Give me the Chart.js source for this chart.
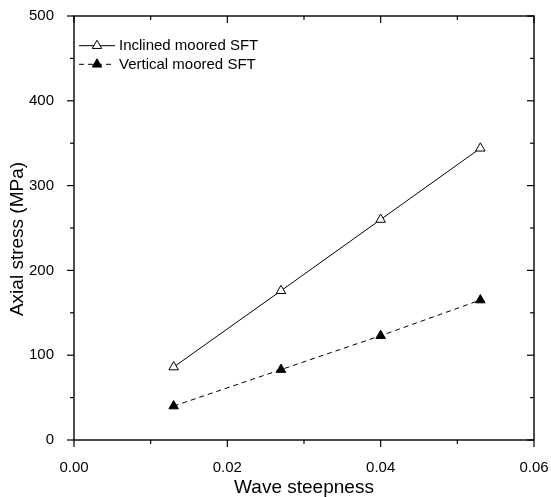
<!DOCTYPE html>
<html>
<head>
<meta charset="utf-8">
<script src="https://cdn.jsdelivr.net/npm/chart.js@4/dist/chart.umd.min.js"></script>
<style>
html,body{margin:0;padding:0;background:#fff;}
#wrap{width:551px;height:497px;position:relative;}
</style>
</head>
<body>
<div id="wrap"><canvas id="c" width="551" height="497"></canvas></div>
<script>
const waveSteepness = [0.013, 0.027, 0.040, 0.053];
const inclinedStress = [86, 176, 260, 344];
const verticalStress = [40, 83, 123, 165];
const seriesLabels = ['Inclined moored SFT', 'Vertical moored SFT'];
const xTitle = 'Wave steepness';
const yTitle = 'Axial stress (MPa)';
const xMajor = [0, 0.02, 0.04, 0.06];
const xMinor = [0.01, 0.03, 0.05];
const yMajor = [0, 100, 200, 300, 400, 500];
const yMinor = [50, 150, 250, 350, 450];

const FONT = "'Liberation Sans', Arial, sans-serif";

const framePlugin = {
  id: 'frame',
  afterDatasetsDraw(chart) {
    const ctx = chart.ctx, a = chart.chartArea;
    const xs = chart.scales.x, ys = chart.scales.y;
    ctx.save();
    ctx.strokeStyle = '#000';
    ctx.lineWidth = 1.4;
    ctx.strokeRect(a.left, a.top, a.right - a.left, a.bottom - a.top);
    ctx.lineWidth = 1.2;
    const tick = (x1, y1, x2, y2) => { ctx.beginPath(); ctx.moveTo(x1, y1); ctx.lineTo(x2, y2); ctx.stroke(); };
    xMajor.forEach(v => { const p = xs.getPixelForValue(v); tick(p, a.bottom, p, a.bottom + 7); tick(p, a.top, p, a.top + 7); });
    xMinor.forEach(v => { const p = xs.getPixelForValue(v); tick(p, a.bottom, p, a.bottom + 4); tick(p, a.top, p, a.top + 4); });
    yMajor.forEach(v => { const p = ys.getPixelForValue(v); tick(a.left - 7, p, a.left, p); tick(a.right - 7, p, a.right, p); });
    yMinor.forEach(v => { const p = ys.getPixelForValue(v); tick(a.left - 4, p, a.left, p); tick(a.right - 4, p, a.right, p); });

    // y-axis title (slightly below centre, as in the reference)
    ctx.save();
    ctx.translate(17.5, 239);
    ctx.rotate(-Math.PI / 2);
    ctx.fillStyle = '#000';
    ctx.font = '19px ' + FONT;
    ctx.textAlign = 'center';
    ctx.textBaseline = 'middle';
    ctx.fillText(yTitle, 0, 0);
    ctx.restore();

    // legend
    const rows = [
      {y: 45.7, ds: chart.data.datasets[0]},
      {y: 64.3, ds: chart.data.datasets[1]}
    ];
    rows.forEach(r => {
      ctx.lineWidth = 1;
      ctx.setLineDash(r.ds.borderDash || []);
      ctx.strokeStyle = '#000';
      tick(79, r.y, 115, r.y);
      ctx.setLineDash([]);
      const rad = r.ds.pointRadius, cx = 97, cy = r.y;
      ctx.beginPath();
      for (let i = 0; i < 3; i++) {
        const ang = i * 2 * Math.PI / 3;
        const px = cx + Math.sin(ang) * rad, py = cy - Math.cos(ang) * rad;
        if (i === 0) ctx.moveTo(px, py); else ctx.lineTo(px, py);
      }
      ctx.closePath();
      ctx.fillStyle = r.ds.pointBackgroundColor;
      ctx.fill();
      ctx.stroke();
      ctx.fillStyle = '#000';
      ctx.font = '15px ' + FONT;
      ctx.textBaseline = 'middle';
      ctx.textAlign = 'left';
      ctx.fillText(r.ds.label, 119, r.y + 0.5);
    });
    ctx.restore();
  }
};

new Chart(document.getElementById('c'), {
  type: 'line',
  data: {
    datasets: [
      {
        label: seriesLabels[0],
        data: waveSteepness.map((x, i) => ({x: x, y: inclinedStress[i]})),
        borderColor: '#000', borderWidth: 1,
        pointStyle: 'triangle', pointRadius: 5.5,
        pointBackgroundColor: '#fff', pointBorderColor: '#000', pointBorderWidth: 1,
        tension: 0, fill: false
      },
      {
        label: seriesLabels[1],
        data: waveSteepness.map((x, i) => ({x: x, y: verticalStress[i]})),
        borderColor: '#000', borderWidth: 1, borderDash: [5, 4],
        pointStyle: 'triangle', pointRadius: 5.5,
        pointBackgroundColor: '#000', pointBorderColor: '#000', pointBorderWidth: 1,
        tension: 0, fill: false
      }
    ]
  },
  options: {
    responsive: false,
    animation: false,
    layout: {padding: {top: 16, right: 17, left: 0, bottom: 0}},
    plugins: {legend: {display: false}, tooltip: {enabled: false}},
    scales: {
      x: {
        type: 'linear', min: 0, max: 0.06,
        afterBuildTicks: s => { s.ticks = xMajor.map(v => ({value: v})); },
        afterFit: s => { s.height = 57; s.paddingLeft = 0; s.paddingRight = 0; },
        grid: {display: false}, border: {display: false},
        ticks: {color: '#000', font: {family: FONT, size: 15}, padding: 11,
          maxRotation: 0, callback: v => v.toFixed(2)},
        title: {display: true, text: xTitle, color: '#000',
          font: {family: FONT, size: 19, lineHeight: 1}, padding: {top: 0, bottom: 0}}
      },
      y: {
        type: 'linear', min: 0, max: 500,
        afterBuildTicks: s => { s.ticks = yMajor.map(v => ({value: v})); },
        afterFit: s => { s.width = 74; s.paddingTop = 0; s.paddingBottom = 0; },
        grid: {display: false}, border: {display: false},
        ticks: {color: '#000', font: {family: FONT, size: 15}, padding: 12},
        title: {display: false}
      }
    }
  },
  plugins: [framePlugin]
});
</script>
</body>
</html>
